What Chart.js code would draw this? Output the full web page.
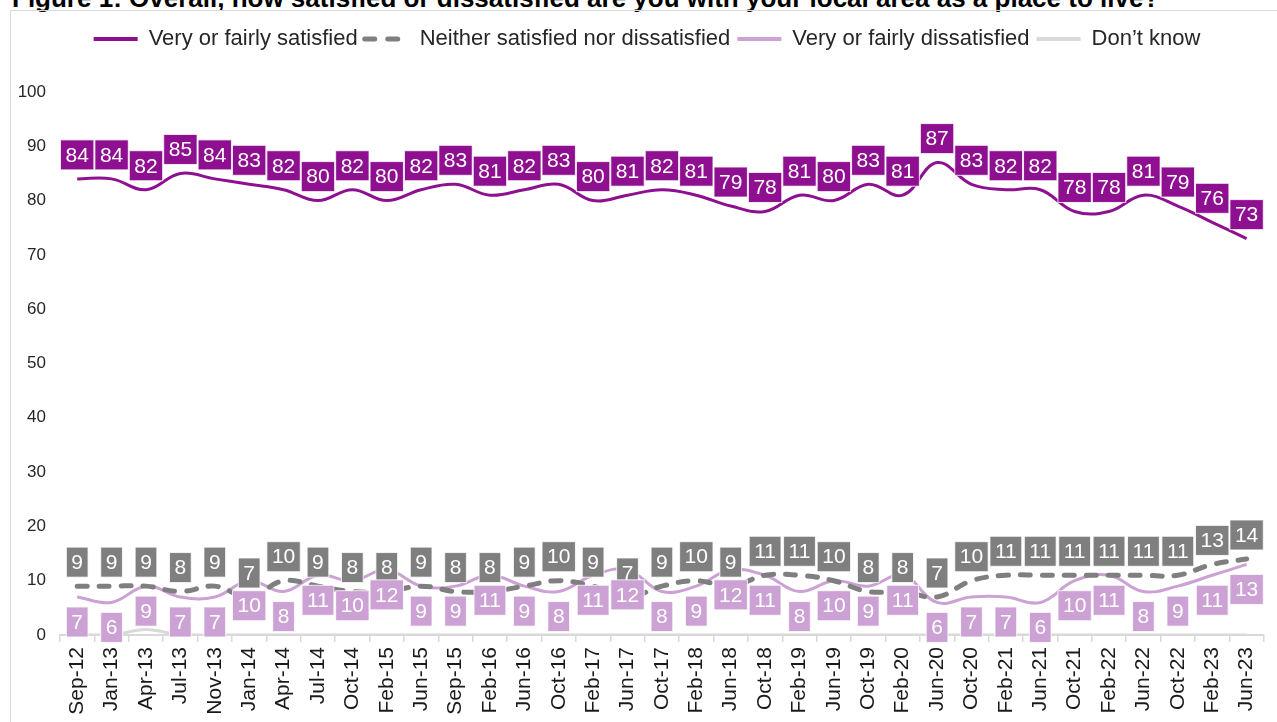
<!DOCTYPE html>
<html><head><meta charset="utf-8">
<script src="https://cdn.jsdelivr.net/npm/chart.js@4.4.1/dist/chart.umd.min.js"></script>
<style>
html,body{margin:0;padding:0;background:#fff;overflow:hidden;width:1277px;height:722px;}
#title{position:absolute;left:12px;top:-15px;font:bold 26px "Liberation Sans",Arial,sans-serif;line-height:26px;color:#000;white-space:nowrap;}
#frame{position:absolute;left:10px;top:10px;width:1300px;height:800px;border:1px solid #d9d9d9;box-sizing:border-box;}
#c{position:absolute;left:0;top:0;}
</style></head><body>
<div id="title">Figure 1: Overall, how satisfied or dissatisfied are you with your local area as a place to live?</div>
<div id="frame"></div>
<canvas id="c" width="1277" height="722"></canvas>
<script>
const categories = ["Sep-12","Jan-13","Apr-13","Jul-13","Nov-13","Jan-14","Apr-14","Jul-14","Oct-14","Feb-15","Jun-15","Sep-15","Feb-16","Jun-16","Oct-16","Feb-17","Jun-17","Oct-17","Feb-18","Jun-18","Oct-18","Feb-19","Jun-19","Oct-19","Feb-20","Jun-20","Oct-20","Feb-21","Jun-21","Oct-21","Feb-22","Jun-22","Oct-22","Feb-23","Jun-23"];
const satisfied = [84,84,82,85,84,83,82,80,82,80,82,83,81,82,83,80,81,82,81,79,78,81,80,83,81,87,83,82,82,78,78,81,79,76,73];
const neither = [9,9,9,8,9,7,10,9,8,8,9,8,8,9,10,9,7,9,10,9,11,11,10,8,8,7,10,11,11,11,11,11,11,13,14];
const dissatisfied = [7,6,9,7,7,10,8,11,10,12,9,9,11,9,8,11,12,8,9,12,11,8,10,9,11,6,7,7,6,10,11,8,9,11,13];
const dontKnow = [0,0,1,0,0,0,0,0,0,0,0,0,0,0,0,0,0,0,0,0,0,0,0,0,0,0,0,0,0,0,0,0,0,0,0];
const yTicks = [0,10,20,30,40,50,60,70,80,90,100];
const seriesNames = ["Very or fairly satisfied","Neither satisfied nor dissatisfied","Very or fairly dissatisfied","Don\u2019t know"];

const FONT = '"Liberation Sans", Arial, sans-serif';
const C_SAT = '#8E1090', C_NEI = '#7F7F7F', C_DIS = '#CCA2D4', C_DK = '#D9D9D9';

const boxLabels = {
  id: 'boxLabels',
  afterLayout(chart) {
    // let the y tick labels extend left of the padded area without being clipped
    chart.scales.y.left = 0;
  },
  afterDatasetsDraw(chart) {
    const ctx = chart.ctx;
    const specs = [
      {idx: 0, pos: 'above', bg: C_SAT},
      {idx: 1, pos: 'above', bg: C_NEI},
      {idx: 2, pos: 'below', bg: C_DIS}
    ];
    ctx.save();
    ctx.font = '21px ' + FONT;
    ctx.textAlign = 'center';
    ctx.textBaseline = 'middle';
    specs.forEach(sp => {
      const meta = chart.getDatasetMeta(sp.idx);
      const vals = chart.data.datasets[sp.idx].data;
      meta.data.forEach((pt, i) => {
        const t = String(vals[i]);
        const w = ctx.measureText(t).width + 10;
        const h = 30;
        const top = sp.pos === 'above' ? pt.y - 9 - h : pt.y + 10;
        ctx.fillStyle = sp.bg;
        ctx.fillRect(pt.x - w / 2, top, w, h);
        ctx.strokeStyle = 'rgba(255,255,255,0.8)';
        ctx.lineWidth = 1;
        ctx.strokeRect(pt.x - w / 2, top, w, h);
        ctx.fillStyle = '#fff';
        ctx.fillText(t, pt.x, top + h / 2 + 1);
      });
    });
    ctx.restore();
  }
};

const legendStyles = [
  {lineWidth: 4, lineDash: [], lineCap: 'butt'},
  {lineWidth: 5, lineDash: [10, 13], lineCap: 'round'},
  {lineWidth: 4, lineDash: [], lineCap: 'butt'},
  {lineWidth: 4, lineDash: [], lineCap: 'butt'}
];

new Chart(document.getElementById('c'), {
  type: 'line',
  data: {
    labels: categories,
    datasets: [
      {label: seriesNames[0], data: satisfied, borderColor: C_SAT, backgroundColor: C_SAT, borderWidth: 3, tension: 0.4, pointRadius: 0},
      {label: seriesNames[1], data: neither, borderColor: C_NEI, backgroundColor: C_NEI, borderWidth: 5, borderDash: [10, 12], borderCapStyle: 'round', tension: 0.4, pointRadius: 0},
      {label: seriesNames[2], data: dissatisfied, borderColor: C_DIS, backgroundColor: C_DIS, borderWidth: 3, tension: 0.4, pointRadius: 0},
      {label: seriesNames[3], data: dontKnow, borderColor: C_DK, backgroundColor: C_DK, borderWidth: 3, tension: 0.4, pointRadius: 0}
    ]
  },
  options: {
    responsive: false,
    devicePixelRatio: 1,
    animation: false,
    layout: {padding: {top: 21, left: 22, right: 5, bottom: 0}},
    plugins: {
      tooltip: {enabled: false},
      legend: {
        position: 'top',
        labels: {
          usePointStyle: true, pointStyle: 'line', pointStyleWidth: 44, boxHeight: 22,
          padding: 7, color: '#262626', font: {size: 22, family: FONT},
          generateLabels(chart) {
            return chart.data.datasets.map((ds, i) => ({
              text: ds.label,
              fillStyle: ds.borderColor,
              strokeStyle: ds.borderColor,
              fontColor: '#262626',
              lineWidth: legendStyles[i].lineWidth,
              lineDash: legendStyles[i].lineDash,
              lineCap: legendStyles[i].lineCap,
              pointStyle: 'line',
              hidden: !chart.isDatasetVisible(i),
              datasetIndex: i
            }));
          }
        }
      }
    },
    scales: {
      x: {
        type: 'category', offset: true,
        grid: {display: true, drawOnChartArea: false, drawTicks: true, tickLength: 7, color: '#d9d9d9', lineWidth: 1.5, offset: true},
        border: {display: true, color: '#d9d9d9', width: 2},
        ticks: {autoSkip: false, minRotation: 90, maxRotation: 90, padding: 5, color: '#1a1a1a', font: {size: 21, family: FONT}},
        afterFit(s) { s.height = 722 - 635; }
      },
      x2: {
        type: 'category', position: 'top', display: true,
        grid: {display: false, drawTicks: false}, border: {display: false},
        ticks: {display: false},
        afterFit(s) { s.height = 32; }
      },
      y: {
        min: 0, max: 100,
        grid: {display: false, drawTicks: false}, border: {display: false},
        ticks: {padding: 14, color: '#262626', font: {size: 17, family: FONT}},
        afterBuildTicks(s) { s.ticks = yTicks.map(v => ({value: v})); },
        afterFit(s) { s.width = 38; }
      }
    }
  },
  plugins: [boxLabels]
});
</script>
</body></html>
